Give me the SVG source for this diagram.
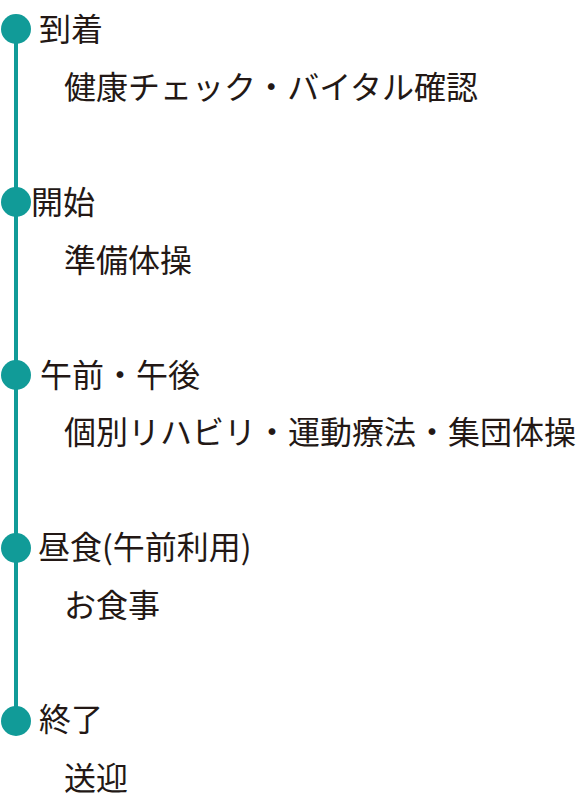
<svg xmlns="http://www.w3.org/2000/svg" width="576" height="808" viewBox="0 0 576 808">
<style>
.t{font-family:"Noto Sans CJK JP","Noto Sans",sans-serif;font-size:32px;fill:#231815}
.d{font-family:"Noto Sans CJK JP","Noto Sans",sans-serif;font-size:32px;fill:#231815}
.dot{fill:#119b98}
</style>
<rect width="576" height="808" fill="#ffffff"/>
<g id="connectors">
<line x1="16" y1="29" x2="16" y2="721" stroke="#119b98" stroke-width="4"/>
</g>
<g id="step1"><circle class="dot" cx="16" cy="29" r="15"/><text class="t" x="39" y="41">到着</text><text class="d" x="64" y="99">健康チェック・バイタル確認</text></g>
<g id="step2"><circle class="dot" cx="16" cy="202" r="15"/><text class="t" x="31" y="214">開始</text><text class="d" x="64" y="272">準備体操</text></g>
<g id="step3"><circle class="dot" cx="16" cy="375" r="15"/><text class="t" x="40" y="387">午前・午後</text><text class="d" x="64" y="444">個別リハビリ・運動療法・集団体操</text></g>
<g id="step4"><circle class="dot" cx="16" cy="548" r="15"/><text class="t" x="38" y="559">昼食(午前利用)</text><text class="d" x="64" y="617">お食事</text></g>
<g id="step5"><circle class="dot" cx="16" cy="721" r="15"/><text class="t" x="39" y="731">終了</text><text class="d" x="64" y="790">送迎</text></g>
</svg>
